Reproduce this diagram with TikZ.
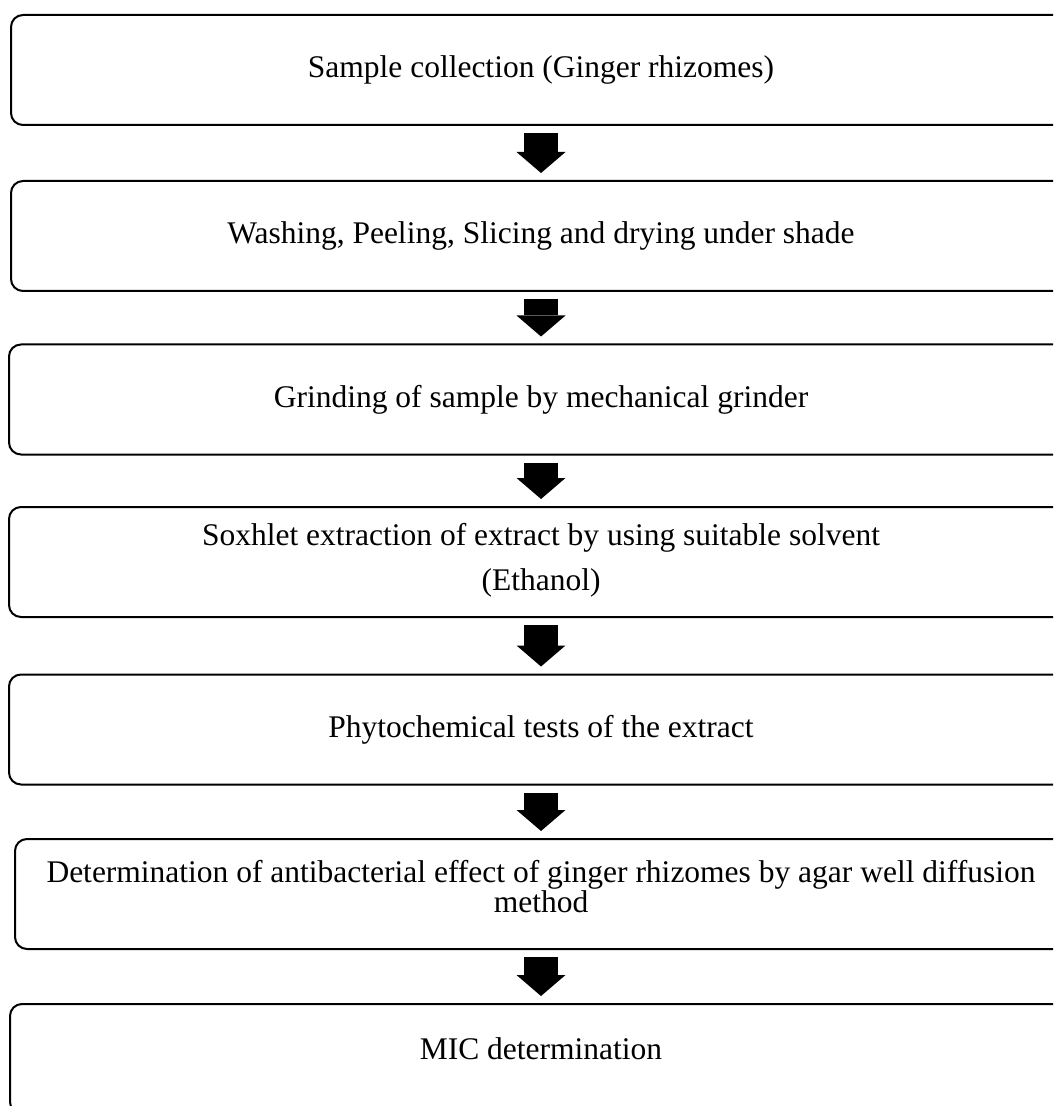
\documentclass[tikz,border=0pt]{standalone}
\usepackage{fontspec}
\setmainfont{Liberation Serif}
\usetikzlibrary{arrows.meta}
\tikzset{
  stepbox/.style={
    draw, color=black, rounded corners=6pt, line width=1pt,
    minimum width=530pt, minimum height=55pt, align=center,
    font=\fontsize{15.75}{15}\selectfont
  },
  flow/.style={
    draw, line width=17pt, shorten <=3.5pt, shorten >=3.5pt,
    -{Triangle[width=24.5pt, length=10.5pt, line width=0pt]}
  }
}

\begin{document}
\begin{tikzpicture}[x=0.5pt, y=-0.5pt]
        \useasboundingbox (0,0) rectangle (1053,1106);
        \clip (0,0) rectangle (1053,1106);

        % boxes run on past the right edge
        \node[stepbox] (collect) at (541,70) {Sample collection (Ginger rhizomes)};
        \node[stepbox] (wash) at (541,236) {Washing, Peeling, Slicing and drying under shade};
        \node[stepbox, minimum width=532pt] (grind) at (541,399.5) {Grinding of sample by mechanical grinder};
        \node[stepbox, minimum width=532pt, text depth=5pt] (soxhlet) at (541,562)
          {Soxhlet extraction of extract by using suitable solvent\\[7.5pt](Ethanol)};
        \node[stepbox, minimum width=532pt] (phyto) at (541,729.5) {Phytochemical tests of the extract};
        \node[stepbox, minimum width=526pt, text depth=8pt] (agar) at (541,894)
          {Determination of antibacterial effect of ginger rhizomes by agar well diffusion\\method};
        \node[stepbox, minimum width=531pt, text depth=10pt] (mic) at (541,1059) {MIC determination};

        \draw[flow] (collect.south) -- (wash.north);
        \draw[flow] (wash.south) -- (grind.north);
        \draw[flow] (grind.south) -- (soxhlet.north);
        \draw[flow] (soxhlet.south) -- (phyto.north);
        \draw[flow] (phyto.south) -- (agar.north);
        \draw[flow] (agar.south) -- (mic.north);
\end{tikzpicture}
\end{document}
